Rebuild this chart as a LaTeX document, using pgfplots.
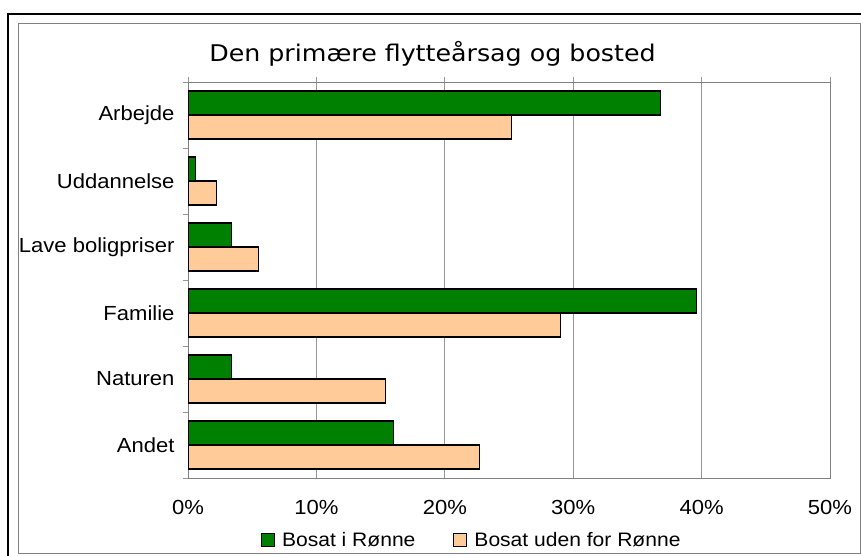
\documentclass[border=0pt]{standalone}
\usepackage{pgfplots}
\pgfplotsset{compat=1.18}
\usepackage{fontspec}
\setmainfont{Liberation Sans}[FakeStretch=1.08]
\newfontfamily\titlefont{DejaVu Sans}[FakeStretch=1.1]
\definecolor{bargreen}{RGB}{0,128,0}
\definecolor{barpeach}{RGB}{255,204,153}
\definecolor{framegray}{RGB}{128,128,128}
\definecolor{gridgray}{RGB}{150,150,150}
\pgfplotstableread{
y green peach
5 36.8 25.2
4 0.6 2.2
3 3.4 5.5
2 39.6 29.0
1 3.4 15.4
0 16.0 22.7
}\datatable
\begin{document}
\begin{tikzpicture}
\useasboundingbox (0bp,0bp) rectangle (861bp,556bp);
\clip (0bp,0bp) rectangle (861bp,556bp);
\fill[white] (0bp,0bp) rectangle (861bp,556bp);
\draw[line width=1.5bp] (8bp,-10bp) rectangle (875bp,542bp);
\draw[framegray, line width=1bp] (18bp,2bp) rectangle (860bp,532bp);
\node[anchor=base, inner sep=0pt] at (432.5bp,494.3bp) {\titlefont\fontsize{23bp}{27bp}\selectfont Den primære flytteårsag og bosted};
\begin{axis}[
  at={(188bp,78bp)}, anchor=south west,
  scale only axis, width=642bp, height=396bp,
  xmin=0, xmax=50, ymin=-0.5, ymax=5.5,
  xbar, bar width=24bp,
  xtick={0,10,20,30,40,50},
  xticklabels={0\%,10\%,20\%,30\%,40\%,50\%},
  xtick pos=right, xticklabel pos=left,
  ytick={-0.5,0.5,1.5,2.5,3.5,4.5,5.5},
  yticklabels={},
  extra y ticks={0,1,2,3,4,5},
  extra y tick labels={Andet,Naturen,Familie,Lave boligpriser,Uddannelse,Arbejde},
  extra y tick style={major tick length=0pt, tick style={draw=none}},
  ytick pos=left,
  tick align=outside,
  major tick length=5bp,
  tick style={gridgray, line width=1bp},
  xmajorgrids, grid style={gridgray, line width=1bp},
  axis line style={framegray, line width=1bp},
  tick label style={font=\fontsize{20.4bp}{24bp}\selectfont},
  xticklabel style={anchor=north, yshift=-14bp},
  yticklabel style={anchor=east, xshift=-10bp},
  legend style={at={(0.442,-0.1566)}, anchor=center, draw=none, fill=none,
    font=\fontsize{19.5bp}{24bp}\selectfont, legend columns=2,
    /tikz/every odd column/.append style={column sep=5bp},
    /tikz/every even column/.append style={column sep=36bp}},
  legend image code/.code={\draw[#1, line width=1bp] (0bp,-6.5bp) rectangle (13bp,6.5bp);},
]
\addplot[fill=bargreen, draw=black, line width=1.4bp, bar shift=12bp] table[x=green, y=y] {\datatable};
\addlegendentry{Bosat i Rønne}
\addplot[fill=barpeach, draw=black, line width=1.4bp, bar shift=-12bp] table[x=peach, y=y] {\datatable};
\addlegendentry{Bosat uden for Rønne}
\end{axis}
\end{tikzpicture}
\end{document}
